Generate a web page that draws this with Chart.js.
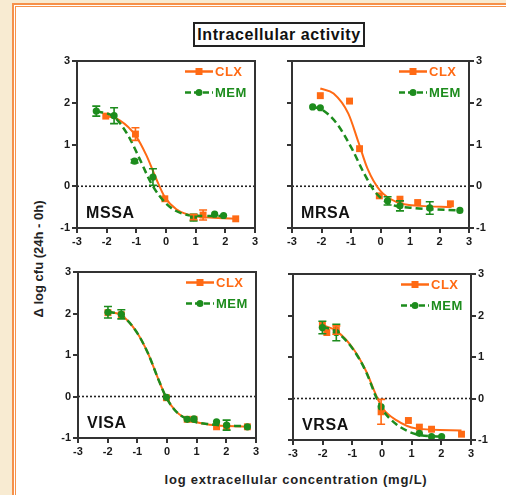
<!DOCTYPE html>
<html>
<head>
<meta charset="utf-8">
<script src="https://cdn.jsdelivr.net/npm/chart.js@4.4.1/dist/chart.umd.min.js"></script>
<style>
  html, body { margin: 0; padding: 0; }
  body {
    width: 506px; height: 495px; overflow: hidden; position: relative;
    background: #f8ebd2;
    font-family: "Liberation Sans", Arial, sans-serif;
  }
  #frame {
    position: absolute; left: 12px; top: 3px; width: 560px; height: 560px;
    background: #fff; border: 2px solid #f6914a;
    box-shadow: inset 0 0 0 1px #fff, inset 0 0 0 2px #f6914a;
  }
  #title {
    position: absolute; left: 193px; top: 22px; width: 168px; height: 21px;
    border: 2px solid #222; text-align: center;
    font-weight: bold; font-size: 16px; letter-spacing: 0.6px; line-height: 21px; color: #111;
  }
  #ytitle {
    position: absolute; left: 38px; top: 259px; white-space: nowrap;
    transform: translate(-50%, -50%) rotate(-90deg);
    font-weight: bold; font-size: 13px; color: #222;
  }
  #xtitle {
    position: absolute; left: 296px; top: 479px; white-space: nowrap;
    transform: translate(-50%, -50%);
    font-weight: bold; font-size: 13px; letter-spacing: 0.8px; color: #222;
  }
  canvas { position: absolute; }
</style>
</head>
<body>
<div id="frame"></div>
<div id="title">Intracellular activity</div>
<div id="ytitle">Δ log cfu (24h - 0h)</div>
<div id="xtitle">log extracellular concentration (mg/L)</div>
<canvas id="cMSSA"></canvas>
<canvas id="cMRSA"></canvas>
<canvas id="cVISA"></canvas>
<canvas id="cVRSA"></canvas>
<script>
const xTicks = [-3, -2, -1, 0, 1, 2, 3];
const yTicks = [-1, 0, 1, 2, 3];
const seriesNames = ["CLX", "MEM"];
const panelNames = ["MSSA", "MRSA", "VISA", "VRSA"];
const zeroLineX = [-3, 3];
const zeroLineY = [0, 0];

// MSSA
const mssaClxX = [-2.03, -1.03, -0.04, 0.93, 1.25, 2.35];
const mssaClxY = [1.68, 1.25, -0.30, -0.74, -0.69, -0.78];
const mssaClxErr = [0, 0.15, 0, 0.06, 0.12, 0];
const mssaMemX = [-2.35, -1.75, -1.06, -0.44, 0.93, 1.64, 1.94];
const mssaMemY = [1.80, 1.69, 0.60, 0.22, -0.75, -0.67, -0.70];
const mssaMemErr = [0.12, 0.19, 0.04, 0.20, 0.08, 0, 0];
const mssaClxFitX = [-2.12, -1.56, -1.03, -0.66, -0.33, -0.04, 0.35, 0.93, 2.35];
const mssaClxFitY = [1.70, 1.58, 1.22, 0.74, 0.18, -0.26, -0.55, -0.71, -0.78];
const mssaMemFitX = [-2.35, -1.75, -1.28, -0.89, -0.49, 0.01, 0.57, 1.25, 1.94];
const mssaMemFitY = [1.80, 1.66, 1.22, 0.66, 0.06, -0.42, -0.66, -0.71, -0.71];

// MRSA
const mrsaClxX = [-2.04, -1.05, -0.71, -0.04, 0.66, 1.26, 2.37];
const mrsaClxY = [2.17, 2.04, 0.90, -0.23, -0.31, -0.39, -0.42];
const mrsaClxErr = [0, 0, 0, 0, 0, 0, 0];
const mrsaMemX = [-2.30, -2.04, 0.24, 0.66, 1.67, 2.69];
const mrsaMemY = [1.90, 1.88, -0.35, -0.47, -0.52, -0.58];
const mrsaMemErr = [0, 0, 0.10, 0.12, 0.15, 0];
const mrsaClxFitX = [-2.04, -1.59, -1.09, -0.75, -0.44, -0.02, 0.55, 1.34, 2.41];
const mrsaClxFitY = [2.34, 2.22, 1.74, 1.06, 0.42, -0.10, -0.38, -0.47, -0.50];
const mrsaMemFitX = [-2.30, -1.99, -1.48, -0.97, -0.58, -0.18, 0.32, 1.11, 2.69];
const mrsaMemFitY = [1.90, 1.84, 1.50, 0.90, 0.34, -0.14, -0.42, -0.52, -0.58];

// VISA
const visaClxX = [-1.99, -1.54, -0.02, 0.68, 0.91, 1.67, 2.01, 2.71];
const visaClxY = [2.02, 1.97, -0.03, -0.55, -0.55, -0.73, -0.73, -0.73];
const visaClxErr = [0, 0, 0, 0, 0, 0, 0, 0];
const visaMemX = [-1.99, -1.54, -0.02, 0.68, 0.91, 1.67, 2.01, 2.71];
const visaMemY = [2.03, 1.98, -0.02, -0.55, -0.54, -0.61, -0.69, -0.73];
const visaMemErr = [0.14, 0.11, 0, 0, 0, 0, 0.12, 0];
const visaClxFitX = [-1.99, -1.54, -1.03, -0.64, -0.30, -0.02, 0.32, 0.77, 1.45, 2.71];
const visaClxFitY = [2.04, 1.96, 1.56, 1.04, 0.43, -0.03, -0.37, -0.57, -0.68, -0.73];
const visaMemFitX = [-1.99, -1.54, -1.03, -0.64, -0.30, -0.02, 0.32, 0.77, 1.45, 2.71];
const visaMemFitY = [2.04, 1.96, 1.56, 1.04, 0.43, -0.03, -0.37, -0.57, -0.67, -0.72];

// VRSA
const vrsaClxX = [-2.01, -1.86, -1.54, -0.03, 0.89, 1.26, 1.67, 2.68];
const vrsaClxY = [1.77, 1.59, 1.65, -0.32, -0.53, -0.69, -0.74, -0.86];
const vrsaClxErr = [0, 0, 0.10, 0.30, 0, 0, 0, 0];
const vrsaMemX = [-2.01, -1.54, -0.03, 1.26, 1.67, 2.01];
const vrsaMemY = [1.71, 1.59, -0.20, -0.84, -0.92, -0.92];
const vrsaMemErr = [0.15, 0.20, 0, 0, 0, 0];
const vrsaClxFitX = [-2.01, -1.54, -0.98, -0.53, -0.20, 0.03, 0.48, 1.15, 2.68];
const vrsaClxFitY = [1.77, 1.63, 1.21, 0.65, 0.08, -0.24, -0.52, -0.72, -0.77];
const vrsaMemFitX = [-2.01, -1.54, -0.98, -0.53, -0.20, 0.03, 0.48, 1.15, 2.01];
const vrsaMemFitY = [1.73, 1.61, 1.19, 0.63, 0.04, -0.28, -0.62, -0.86, -0.92];

const ORANGE = "#ff6a14";
const GREEN = "#1d8c1d";
const AXIS = "#333333";
const FONT = "'Liberation Sans', Arial, sans-serif";

// plot area of each panel on the page, and which side carries the y labels
const boxes = {
  MSSA: { l: 77, t: 61, r: 255, b: 228, side: "left" },
  MRSA: { l: 292, t: 61, r: 469, b: 228, side: "right" },
  VISA: { l: 78, t: 272, r: 256, b: 438, side: "left" },
  VRSA: { l: 293, t: 274, r: 471, b: 440, side: "right" },
};

const panelData = {
  MSSA: [mssaClxX, mssaClxY, mssaClxErr, mssaMemX, mssaMemY, mssaMemErr, mssaClxFitX, mssaClxFitY, mssaMemFitX, mssaMemFitY],
  MRSA: [mrsaClxX, mrsaClxY, mrsaClxErr, mrsaMemX, mrsaMemY, mrsaMemErr, mrsaClxFitX, mrsaClxFitY, mrsaMemFitX, mrsaMemFitY],
  VISA: [visaClxX, visaClxY, visaClxErr, visaMemX, visaMemY, visaMemErr, visaClxFitX, visaClxFitY, visaMemFitX, visaMemFitY],
  VRSA: [vrsaClxX, vrsaClxY, vrsaClxErr, vrsaMemX, vrsaMemY, vrsaMemErr, vrsaClxFitX, vrsaClxFitY, vrsaMemFitX, vrsaMemFitY],
};

const pts = (xs, ys) => xs.map((x, i) => ({ x: x, y: ys[i] }));

const errorBars = {
  id: "errorBars",
  afterDatasetsDraw(chart) {
    const ctx = chart.ctx;
    const sx = chart.scales.x;
    const sy = chart.scales.y;
    chart.data.datasets.forEach((ds) => {
      if (!ds.errors) return;
      ds.data.forEach((p, j) => {
        const e = ds.errors[j];
        if (!e) return;
        const px = sx.getPixelForValue(p.x);
        const y1 = sy.getPixelForValue(p.y + e);
        const y2 = sy.getPixelForValue(p.y - e);
        ctx.save();
        ctx.strokeStyle = ds.borderColor;
        ctx.lineWidth = 1.6;
        ctx.beginPath();
        ctx.moveTo(px, y1); ctx.lineTo(px, y2);
        ctx.moveTo(px - 4, y1); ctx.lineTo(px + 4, y1);
        ctx.moveTo(px - 4, y2); ctx.lineTo(px + 4, y2);
        ctx.stroke();
        ctx.restore();
      });
    });
  },
};

function drawKey(ctx, x0, y, color, dash, marker, text) {
  ctx.save();
  ctx.strokeStyle = color;
  ctx.fillStyle = color;
  ctx.lineWidth = 2.5;
  ctx.setLineDash(dash);
  ctx.beginPath();
  ctx.moveTo(x0, y); ctx.lineTo(x0 + 28, y);
  ctx.stroke();
  ctx.setLineDash([]);
  if (marker === "rect") {
    ctx.fillRect(x0 + 10.5, y - 3.5, 7, 7);
  } else {
    ctx.beginPath();
    ctx.arc(x0 + 14, y, 3.5, 0, Math.PI * 2);
    ctx.fill();
  }
  ctx.font = "bold 13px " + FONT;
  ctx.letterSpacing = "0.5px";
  ctx.textBaseline = "middle";
  ctx.fillText(text, x0 + 30, y + 0.5);
  ctx.restore();
}

const decor = {
  id: "decor",
  afterDraw(chart, args, opts) {
    const ctx = chart.ctx;
    const a = chart.chartArea;
    ctx.save();
    ctx.strokeStyle = AXIS;
    ctx.lineWidth = 2;
    ctx.strokeRect(a.left, a.top, a.right - a.left, a.bottom - a.top);
    const x0 = a.right - 70;
    drawKey(ctx, x0, a.top + 10.5, ORANGE, [], "rect", seriesNames[0]);
    drawKey(ctx, x0, a.top + 31.5, GREEN, [6, 3], "circle", seriesNames[1]);
    ctx.font = "bold 16px " + FONT;
    ctx.letterSpacing = "0.6px";
    ctx.fillStyle = "#111";
    ctx.textBaseline = "alphabetic";
    ctx.fillText(opts.name, a.left + 9, a.bottom - 10);
    ctx.restore();
  },
};

function yScale(position, showLabels) {
  return {
    type: "linear",
    position: position,
    min: -1,
    max: 3,
    afterBuildTicks: (s) => { s.ticks = yTicks.map((v) => ({ value: v })); },
    afterFit: (s) => { s.width = 30; },
    grid: { display: true, drawOnChartArea: false, drawTicks: true, tickLength: 5, color: AXIS, lineWidth: 2 },
    border: { display: false },
    ticks: {
      autoSkip: false,
      padding: 2,
      color: "#1a1a1a",
      font: { family: FONT, size: 11, weight: "bold" },
      callback: (v) => (showLabels ? String(v) : ""),
    },
  };
}

function makePanel(name) {
  const box = boxes[name];
  const d = panelData[name];
  const w = box.r - box.l;
  const h = box.b - box.t;
  const canvas = document.getElementById("c" + name);
  canvas.width = w + 60;
  canvas.height = h + 40;
  canvas.style.left = (box.l - 30) + "px";
  canvas.style.top = (box.t - 10) + "px";

  const scales = {
    x: {
      type: "linear",
      min: -3,
      max: 3,
      afterBuildTicks: (s) => { s.ticks = xTicks.map((v) => ({ value: v })); },
      afterFit: (s) => { s.height = 30; },
      grid: { display: true, drawOnChartArea: false, drawTicks: true, tickLength: 5, color: AXIS, lineWidth: 2 },
      border: { display: false },
      ticks: {
        autoSkip: false,
        maxRotation: 0,
        padding: 2,
        color: "#1a1a1a",
        font: { family: FONT, size: 11, weight: "bold" },
      },
    },
    y: yScale("left", box.side === "left"),
  };
  if (box.side === "right") scales.yR = yScale("right", true);

  new Chart(canvas, {
    type: "line",
    data: {
      datasets: [
        {
          label: seriesNames[1],
          data: pts(d[3], d[4]),
          errors: d[5],
          showLine: false,
          pointStyle: "circle",
          pointRadius: 3.6,
          pointBorderWidth: 0,
          backgroundColor: GREEN,
          borderColor: GREEN,
          order: 0,
        },
        {
          label: seriesNames[1] + " fit",
          data: pts(d[8], d[9]),
          borderColor: GREEN,
          borderWidth: 2.5,
          borderDash: [7, 4],
          pointRadius: 0,
          cubicInterpolationMode: "monotone",
          order: 1,
        },
        {
          label: seriesNames[0],
          data: pts(d[0], d[1]),
          errors: d[2],
          showLine: false,
          pointStyle: "rect",
          pointRadius: 4.9,
          pointBorderWidth: 0,
          backgroundColor: ORANGE,
          borderColor: ORANGE,
          order: 2,
        },
        {
          label: seriesNames[0] + " fit",
          data: pts(d[6], d[7]),
          borderColor: ORANGE,
          borderWidth: 2,
          pointRadius: 0,
          cubicInterpolationMode: "monotone",
          order: 3,
        },
        {
          label: "zero",
          data: pts(zeroLineX, zeroLineY),
          borderColor: "#222",
          borderWidth: 1.6,
          borderDash: [2, 2],
          pointRadius: 0,
          order: 4,
        },
      ],
    },
    options: {
      responsive: false,
      animation: false,
      devicePixelRatio: 1,
      layout: { padding: { top: 10, right: box.side === "left" ? 30 : 0, left: 0, bottom: 0 } },
      plugins: {
        legend: { display: false },
        tooltip: { enabled: false },
        decor: { name: name },
      },
      scales: scales,
    },
    plugins: [errorBars, decor],
  });
}

panelNames.forEach(makePanel);
</script>
</body>
</html>
